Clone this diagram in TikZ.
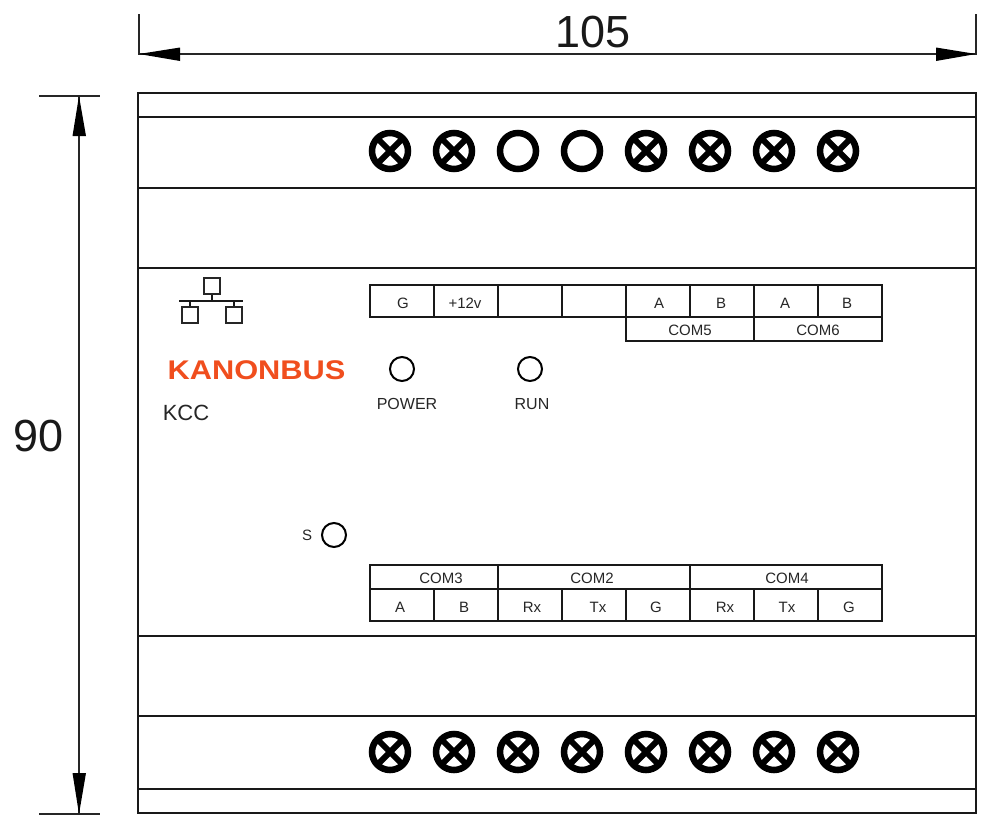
\documentclass[tikz,border=0pt]{standalone}
\usepackage{fontspec}
\setmainfont{Liberation Sans}
\definecolor{logoorange}{HTML}{F04E1E}
\definecolor{logoblue}{HTML}{1F3F7F}
\tikzset{
  x=1pt,y=-1pt,
  ink/.style={line width=2pt,draw=black!90},
  cellbox/.style={draw=black!90,line width=2pt,inner sep=0pt,outer sep=0pt,minimum height=#1},
  cellbox/.default=32pt,
  lab/.style={inner sep=0pt,font=\fontsize{15}{15}\selectfont,text=black!85},
  led/.style={circle,draw=black,line width=2pt,minimum size=24pt,inner sep=0pt},
  screwbase/.style={circle,draw=black,line width=6.5pt,fill=white,minimum size=36pt,inner sep=0pt},
  screwx/.style={screwbase,path picture={
     \draw[black,line width=6pt] (path picture bounding box.north west)--(path picture bounding box.south east)
       (path picture bounding box.north east)--(path picture bounding box.south west);}},
  dim/.style={line width=1.4pt,draw=black!85},
  tipshape/.style={fill=black,draw=none},
  dimtxt/.style={inner sep=0pt,font=\fontsize{45}{45}\selectfont,text=black!90},
}
\begin{document}
\begin{tikzpicture}
\useasboundingbox (0,0) rectangle (1000,838);
% body
\node[draw=black!90,line width=2pt,minimum width=838pt,minimum height=720pt,inner sep=0pt,outer sep=0pt] (body) at (557,453) {};
\foreach \n/\y in {a/117,b/188,c/268,d/636,e/716,f/789}{
  \coordinate (l\n) at (138,\y); \coordinate (r\n) at (976,\y);
  \draw[ink] (l\n) -- (r\n);
}
% screws
\foreach \i/\x/\s in {1/390/screwx,2/454/screwx,3/518/screwbase,4/582/screwbase,5/646/screwx,6/710/screwx,7/774/screwx,8/838/screwx}{
  \node[\s] (top\i) at (\x,151) {};
}
\foreach \i/\x in {1/390,2/454,3/518,4/582,5/646,6/710,7/774,8/838}{
  \node[screwx] (bot\i) at (\x,752) {};
}
% upper terminal table
\foreach \i/\x in {1/402,2/466,3/530,4/594,5/658,6/722,7/786,8/850}{
  \node[cellbox,minimum width=64pt] (u\i) at (\x,301) {};
}
\node[cellbox=24pt,minimum width=128pt] (com5) at (690,329) {};
\node[cellbox=24pt,minimum width=128pt] (com6) at (818,329) {};
\foreach \t/\x in {G/403,+12v/465,A/659,B/721,A/785,B/847}{
  \node[lab] at (\x,303) {\t};
}
\node[lab] at (690,330) {COM5};
\node[lab] at (818,330) {COM6};
% lower terminal table
\node[cellbox=24pt,minimum width=128pt] (com3) at (434,577) {};
\node[cellbox=24pt,minimum width=192pt] (com2) at (594,577) {};
\node[cellbox=24pt,minimum width=192pt] (com4) at (786,577) {};
\foreach \i/\x in {1/402,2/466,3/530,4/594,5/658,6/722,7/786,8/850}{
  \node[cellbox,minimum width=64pt] (v\i) at (\x,605) {};
}
\foreach \t/\x in {A/400,B/464,Rx/532,Tx/598,G/656,Rx/725,Tx/787,G/849}{
  \node[lab] at (\x,607) {\t};
}
\node[lab] at (441,578) {COM3};
\node[lab] at (592,578) {COM2};
\node[lab] at (787,578) {COM4};
% LEDs
\node[led] (power) at (402,369) {};
\node[led] (run) at (530,369) {};
\node[led] (sw) at (334,535) {};
\node[lab,font=\fontsize{16}{16}\selectfont] at (407,404) {POWER};
\node[lab,font=\fontsize{16}{16}\selectfont] at (532,404) {RUN};
\node[lab,font=\fontsize{15}{15}\selectfont] at (307,535) {S};
\node[lab,font=\fontsize{22}{22}\selectfont] at (186,413) {KCC};
% logo
\node[inner sep=0pt,text=logoorange] (logo) at (256.5,370) {\scalebox{1.14}[1]{\fontsize{27}{27}\selectfont\bfseries KANONBUS}};
% network icon
\node[draw=black!85,line width=2pt,minimum size=16pt,inner sep=0pt] (nt) at (211.5,286) {};
\node[draw=black!85,line width=2pt,minimum size=16pt,inner sep=0pt] (nl) at (189.5,315) {};
\node[draw=black!85,line width=2pt,minimum size=16pt,inner sep=0pt] (nr) at (233.5,315) {};
\coordinate (nbl) at (179,301); \coordinate (nbr) at (243,301);
\draw[ink] (nbl) -- (nbr);
\draw[ink] (nt.south) -- (nt.south |- nbl);
\draw[ink] (nl.north) -- (nl.north |- nbl);
\draw[ink] (nr.north) -- (nr.north |- nbl);
% dimensions
\coordinate (dl) at (139,54); \coordinate (dr) at (976,54);
\coordinate (dlt) at (139,14); \coordinate (drt) at (976,14);
\draw[dim] (dlt) -- (dl) -- (dr) -- (drt);
\fill[tipshape] (dl) -- (180,47.5) -- (180,61) -- cycle;
\fill[tipshape] (dr) -- (936,47.5) -- (936,61) -- cycle;
\coordinate (vt) at (79,96); \coordinate (vb) at (79,814);
\coordinate (vtl) at (39,96); \coordinate (vtr) at (100,96);
\coordinate (vbl) at (39,814); \coordinate (vbr) at (100,814);
\draw[dim] (vt) -- (vb);
\draw[dim] (vtl) -- (vtr);
\draw[dim] (vbl) -- (vbr);
\fill[tipshape] (vt) -- (72.5,136) -- (86,136) -- cycle;
\fill[tipshape] (vb) -- (72.5,773) -- (86,773) -- cycle;
\node[dimtxt] at (593,32) {105};
\node[dimtxt] at (39,436) {90};
\end{tikzpicture}
\end{document}
